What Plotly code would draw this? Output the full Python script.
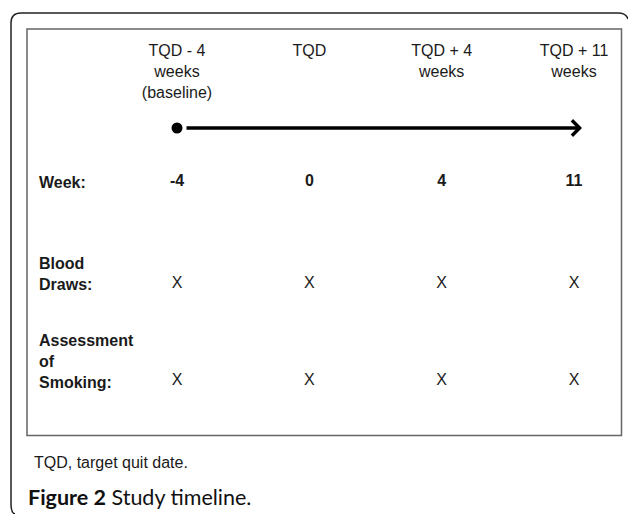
import plotly.graph_objects as go

# ---- data ----
timepoints = ["TQD - 4<br>weeks<br>(baseline)", "TQD", "TQD + 4<br>weeks", "TQD + 11<br>weeks"]
weeks = [-4, 0, 4, 11]
blood_draws = [True, True, True, True]
smoking_assessment = [True, True, True, True]
row_labels = ["Week:", "Blood<br>Draws:", "Assessment<br>of<br>Smoking:"]
footnote = "TQD, target quit date."
caption_bold = "Figure 2"
caption_text = "Study timeline."

# ---- layout constants (page pixels) ----
W, H = 628, 514
col0_px, col_step_px = 177, 132.33
FONT = "Liberation Sans, Arial, sans-serif"
TXT = "#1a1a1a"


def px(xp):
    """page x pixel -> paper fraction"""
    return xp / W


idx = list(range(len(timepoints)))

fig = go.Figure()

# header labels
fig.add_trace(go.Scatter(
    x=idx, y=[44] * len(idx), mode="text", text=timepoints,
    textposition="bottom center",
    textfont=dict(family=FONT, size=16, color=TXT), hoverinfo="skip"))

# timeline start dot
fig.add_trace(go.Scatter(
    x=[idx[0]], y=[128], mode="markers",
    marker=dict(size=11, color="black"), hoverinfo="skip"))

# week numbers
fig.add_trace(go.Scatter(
    x=idx, y=[182] * len(idx), mode="text",
    text=[f"<b>{w}</b>" for w in weeks], textposition="middle center",
    textfont=dict(family=FONT, size=16, color=TXT), hoverinfo="skip"))

# blood draws
bx = [i for i, v in zip(idx, blood_draws) if v]
fig.add_trace(go.Scatter(
    x=bx, y=[284] * len(bx), mode="text", text=["X"] * len(bx),
    textposition="middle center",
    textfont=dict(family=FONT, size=16, color=TXT), hoverinfo="skip"))

# smoking assessment
sx = [i for i, v in zip(idx, smoking_assessment) if v]
fig.add_trace(go.Scatter(
    x=sx, y=[381] * len(sx), mode="text", text=["X"] * len(sx),
    textposition="middle center",
    textfont=dict(family=FONT, size=16, color=TXT), hoverinfo="skip"))

annotations = []
# arrow
annotations.append(dict(
    x=idx[-1], y=128, xref="x", yref="y", ax=idx[0], ay=128,
    axref="x", ayref="y", xshift=8, text="", showarrow=True,
    arrowhead=4, arrowwidth=3.5, arrowsize=0.85, arrowcolor="black"))

# row labels
label_y = [182, 284 - 10, 381 - 20]
for lab, yy in zip(row_labels, label_y):
    annotations.append(dict(
        x=px(37), y=yy, xref="paper", yref="y", xanchor="left", yanchor="middle",
        align="left", text=f"<b>{lab}</b>", showarrow=False,
        font=dict(family=FONT, size=16, color=TXT)))

annotations.append(dict(
    x=px(32), y=462, xref="paper", yref="y", xanchor="left", yanchor="middle",
    text=footnote, showarrow=False, font=dict(family=FONT, size=16, color=TXT)))
annotations.append(dict(
    x=px(26), y=497, xref="paper", yref="y", xanchor="left", yanchor="middle",
    text=f"<b>{caption_bold}</b> {caption_text}", showarrow=False,
    font=dict(family="Lato, Open Sans, sans-serif", size=21.5, color="#111")))

# outer frame: only top and left sides are visible (cut off at right/bottom)
outer_path = ("M15,514 Q11,513 11,504 L11,23 Q11,13 21,13 "
              "L618,13 Q626,13 628,19")

fig.update_layout(
    width=W, height=H, margin=dict(l=0, r=0, t=0, b=0),
    paper_bgcolor="white", plot_bgcolor="white", showlegend=False,
    xaxis=dict(range=[-col0_px / col_step_px, (W - col0_px) / col_step_px],
               visible=False, fixedrange=True),
    yaxis=dict(range=[H, 0], visible=False, fixedrange=True),
    xaxis2=dict(range=[0, W], visible=False, overlaying="x", fixedrange=True),
    annotations=annotations,
)
fig.add_shape(type="path", path=outer_path, xref="x2", yref="y",
              line=dict(color="#222", width=1.5))
fig.add_shape(type="rect", xref="paper", yref="y", x0=px(27), x1=px(621.5), y0=29, y1=435.5,
              line=dict(color="#666", width=1.5))

fig.write_html("out.html", config={"displayModeBar": False},
               post_script="document.body.style.margin='0';document.body.style.overflow='hidden';")
